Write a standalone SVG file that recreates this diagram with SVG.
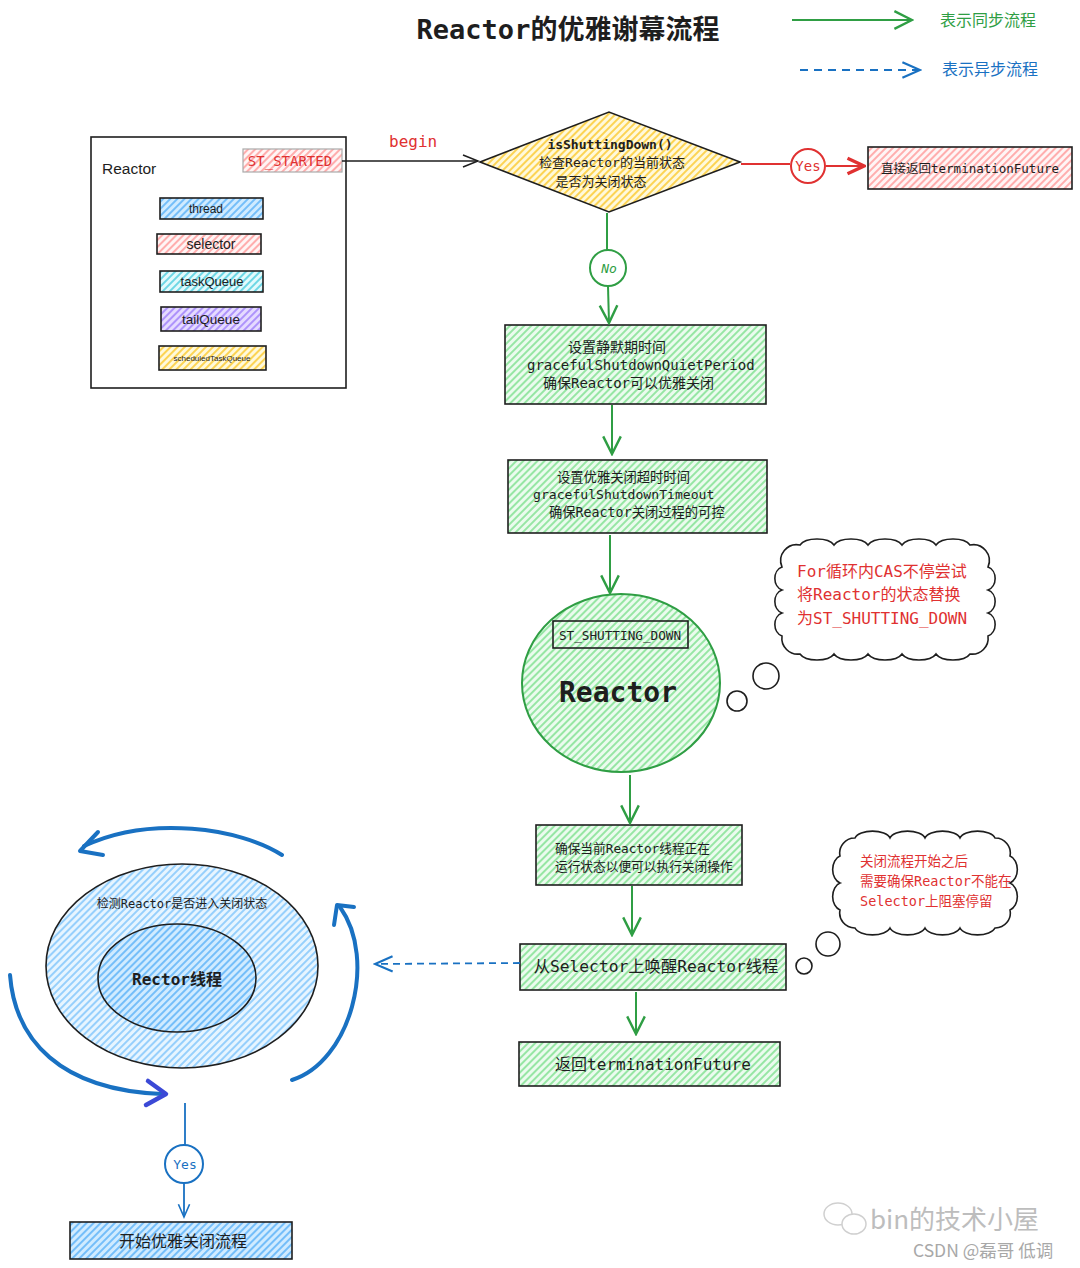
<svg xmlns="http://www.w3.org/2000/svg" width="1080" height="1268" viewBox="0 0 1080 1268">
<style>
.mono{font-family:"DejaVu Sans Mono","Noto Sans CJK SC",monospace}
.sans{font-family:"Liberation Sans","Noto Sans CJK SC",sans-serif}
.cjk{font-family:"Noto Sans CJK SC",sans-serif}
.bx{stroke:#1e1e1e;stroke-width:1.6}
.gl{stroke:#2f9e44;stroke-width:2;fill:none}
.rl{stroke:#e03131;stroke-width:2;fill:none}
.bl{stroke:#1971c2;fill:none}
.t{fill:#1e1e1e}
</style>
<defs>
<pattern id="hg" patternUnits="userSpaceOnUse" width="5" height="5" patternTransform="rotate(45)"><rect width="5" height="5" fill="#ebfbee"/><line x1="1" y1="0" x2="1" y2="5" stroke="#69db7c" stroke-width="1.3"/></pattern>
<pattern id="hb" patternUnits="userSpaceOnUse" width="5" height="5" patternTransform="rotate(45)"><rect width="5" height="5" fill="#e7f5ff"/><line x1="1" y1="0" x2="1" y2="5" stroke="#74c0fc" stroke-width="1.4"/></pattern>
<pattern id="hb2" patternUnits="userSpaceOnUse" width="5" height="5" patternTransform="rotate(45)"><rect width="5" height="5" fill="#d0ebff"/><line x1="1" y1="0" x2="1" y2="5" stroke="#4dabf7" stroke-width="1.4"/></pattern>
<pattern id="hr" patternUnits="userSpaceOnUse" width="5" height="5" patternTransform="rotate(45)"><rect width="5" height="5" fill="#fff5f5"/><line x1="1" y1="0" x2="1" y2="5" stroke="#ff8787" stroke-width="1.3"/></pattern>
<pattern id="ht" patternUnits="userSpaceOnUse" width="5" height="5" patternTransform="rotate(45)"><rect width="5" height="5" fill="#e3fafc"/><line x1="1" y1="0" x2="1" y2="5" stroke="#3bc9db" stroke-width="1.4"/></pattern>
<pattern id="hp" patternUnits="userSpaceOnUse" width="5" height="5" patternTransform="rotate(45)"><rect width="5" height="5" fill="#e5dbff"/><line x1="1" y1="0" x2="1" y2="5" stroke="#9775fa" stroke-width="1.4"/></pattern>
<pattern id="hy" patternUnits="userSpaceOnUse" width="5" height="5" patternTransform="rotate(45)"><rect width="5" height="5" fill="#fff9db"/><line x1="1" y1="0" x2="1" y2="5" stroke="#fcc419" stroke-width="1.4"/></pattern>
<marker id="aG" viewBox="0 0 20 20" refX="18" refY="10" markerWidth="22" markerHeight="22" markerUnits="userSpaceOnUse" orient="auto"><path d="M2,2 L18,10 L2,18" fill="none" stroke="#2f9e44" stroke-width="2.2"/></marker>
<marker id="aR" viewBox="0 0 20 20" refX="18" refY="10" markerWidth="22" markerHeight="22" markerUnits="userSpaceOnUse" orient="auto"><path d="M3,3 L18,10 L3,17" fill="none" stroke="#e03131" stroke-width="3"/></marker>
<marker id="aK" viewBox="0 0 20 20" refX="18" refY="10" markerWidth="20" markerHeight="20" markerUnits="userSpaceOnUse" orient="auto"><path d="M3,4 L18,10 L3,16" fill="none" stroke="#1e1e1e" stroke-width="1.6"/></marker>
<marker id="aB" viewBox="0 0 20 20" refX="18" refY="10" markerWidth="22" markerHeight="22" markerUnits="userSpaceOnUse" orient="auto"><path d="M2,3 L18,10 L2,17" fill="none" stroke="#1971c2" stroke-width="2"/></marker>
<marker id="aBs" viewBox="0 0 20 20" refX="18" refY="10" markerWidth="16" markerHeight="16" markerUnits="userSpaceOnUse" orient="auto"><path d="M2,3 L18,10 L2,17" fill="none" stroke="#1971c2" stroke-width="2"/></marker>
</defs>
<rect width="1080" height="1268" fill="#ffffff"/>

<g id="title"><text x="568" y="39" text-anchor="middle" class="mono t" font-size="27" font-weight="bold">Reactor的优雅谢幕流程</text></g>

<g id="legend">
<line x1="792" y1="20" x2="912" y2="20" class="gl" marker-end="url(#aG)"/>
<text x="940" y="26" class="cjk" font-size="16" fill="#2f9e44">表示同步流程</text>
<line x1="800" y1="70" x2="920" y2="70" class="bl" stroke-width="2" stroke-dasharray="8 6" marker-end="url(#aB)"/>
<text x="942" y="75" class="cjk" font-size="16" fill="#1971c2">表示异步流程</text>
</g>

<g id="reactor-box">
<rect x="91" y="137" width="255" height="251" fill="#ffffff" class="bx"/>
<text x="102" y="174" class="sans t" font-size="15.5">Reactor</text>
<g id="st-started"><rect x="243" y="149" width="99" height="23" fill="url(#hr)" stroke="#aaa" stroke-width="1.2"/><text x="290" y="166" text-anchor="middle" class="mono" font-size="14" fill="#e03131">ST_STARTED</text></g>
<g id="thread"><rect x="160" y="198" width="103" height="21" fill="url(#hb2)" class="bx"/><text x="206" y="213" text-anchor="middle" class="sans t" font-size="12">thread</text></g>
<g id="selector"><rect x="157" y="234" width="104" height="20" fill="url(#hr)" class="bx"/><text x="211" y="249" text-anchor="middle" class="sans t" font-size="14">selector</text></g>
<g id="taskQueue"><rect x="160" y="271" width="103" height="21" fill="url(#ht)" class="bx"/><text x="212" y="286" text-anchor="middle" class="sans t" font-size="13">taskQueue</text></g>
<g id="tailQueue"><rect x="161" y="307" width="100" height="24" fill="url(#hp)" class="bx"/><text x="211" y="324" text-anchor="middle" class="sans t" font-size="13.5">tailQueue</text></g>
<g id="scheduledTaskQueue"><rect x="159" y="346" width="107" height="24" fill="url(#hy)" class="bx"/><text x="212" y="361" text-anchor="middle" class="sans t" font-size="8">scheduledTaskQueue</text></g>
</g>

<g id="decision">
<polygon points="480,162 609,112 740,162 609,212" fill="url(#hy)" class="bx"/>
<text x="610" y="149" text-anchor="middle" class="mono t" font-size="13" font-weight="bold">isShuttingDown()</text>
<text x="612" y="167" text-anchor="middle" class="mono t" font-size="13">检查Reactor的当前状态</text>
<text x="601" y="186" text-anchor="middle" class="mono t" font-size="13">是否为关闭状态</text>
</g>

<g id="return-direct"><rect x="868" y="147" width="204" height="42" fill="url(#hr)" class="bx"/><text x="970" y="173" text-anchor="middle" class="mono t" font-size="12.5">直接返回terminationFuture</text></g>

<g id="step1"><rect x="505" y="325" width="261" height="79" fill="url(#hg)" class="bx"/>
<text x="568" y="352" class="mono t" font-size="14">设置静默期时间</text>
<text x="527" y="370" class="mono t" font-size="14">gracefulShutdownQuietPeriod</text>
<text x="543" y="388" class="mono t" font-size="14">确保Reactor可以优雅关闭</text></g>

<g id="step2"><rect x="508" y="460" width="259" height="73" fill="url(#hg)" class="bx"/>
<text x="557" y="482" class="mono t" font-size="13.3">设置优雅关闭超时时间</text>
<text x="533" y="499" class="mono t" font-size="13.1">gracefulShutdownTimeout</text>
<text x="549" y="517" class="mono t" font-size="13.3">确保Reactor关闭过程的可控</text></g>

<g id="reactor-circle">
<ellipse cx="621" cy="683" rx="99" ry="89" fill="url(#hg)" stroke="#2f9e44" stroke-width="2"/>
<rect x="553" y="621" width="135" height="27" fill="url(#hg)" class="bx"/>
<text x="620" y="640" text-anchor="middle" class="mono t" font-size="12.7">ST_SHUTTING_DOWN</text>
<text x="618" y="702" text-anchor="middle" class="mono t" font-size="28" font-weight="bold">Reactor</text>
</g>

<g id="cloud1">
<path d="M800 545 a18 9 0 0 1 34 0 a18 9 0 0 1 34 0 a18 9 0 0 1 34 0 a18 9 0 0 1 34 0 a18 9 0 0 1 34 0 a16 16 0 0 1 18 22 a10 12 0 0 1 0 23 a10 12 0 0 1 0 23 a10 12 0 0 1 0 23 a16 16 0 0 1 -18 18 a18 9 0 0 1 -34 0 a18 9 0 0 1 -34 0 a18 9 0 0 1 -34 0 a18 9 0 0 1 -34 0 a18 9 0 0 1 -34 0 a16 16 0 0 1 -18 -18 a10 12 0 0 1 0 -23 a10 12 0 0 1 0 -23 a10 12 0 0 1 0 -23 a16 16 0 0 1 18 -22 Z" fill="#ffffff" class="bx"/>
<text x="797" y="577" class="mono" font-size="16" fill="#e03131">For循环内CAS不停尝试</text>
<text x="797" y="600" class="mono" font-size="16" fill="#e03131">将Reactor的状态替换</text>
<text x="797" y="624" class="mono" font-size="16" fill="#e03131">为ST_SHUTTING_DOWN</text>
<circle cx="766" cy="676" r="13" fill="#ffffff" class="bx"/>
<circle cx="737" cy="701" r="10" fill="#ffffff" class="bx"/>
</g>

<g id="step3"><rect x="536" y="825" width="206" height="60" fill="url(#hg)" class="bx"/>
<text x="555" y="853" class="mono t" font-size="12.7">确保当前Reactor线程正在</text>
<text x="555" y="871" class="mono t" font-size="12.7">运行状态以便可以执行关闭操作</text></g>

<g id="cloud2">
<path d="M855 838 a18 9 0 0 1 35 0 a18 9 0 0 1 35 0 a18 9 0 0 1 35 0 a18 9 0 0 1 35 0 a15 15 0 0 1 15 18 a10 14 0 0 1 0 27 a10 14 0 0 1 0 27 a15 15 0 0 1 -15 18 a18 9 0 0 1 -35 0 a18 9 0 0 1 -35 0 a18 9 0 0 1 -35 0 a18 9 0 0 1 -35 0 a15 15 0 0 1 -15 -18 a10 14 0 0 1 0 -27 a10 14 0 0 1 0 -27 a15 15 0 0 1 15 -18 Z" fill="#ffffff" class="bx"/>
<text x="860" y="866" class="mono" font-size="13.5" fill="#e03131">关闭流程开始之后</text>
<text x="860" y="886" class="mono" font-size="13.5" fill="#e03131">需要确保Reactor不能在</text>
<text x="860" y="906" class="mono" font-size="13.5" fill="#e03131">Selector上阻塞停留</text>
<circle cx="828" cy="944" r="12" fill="#ffffff" class="bx"/>
<circle cx="804" cy="966" r="8" fill="#ffffff" class="bx"/>
</g>

<g id="step4"><rect x="520" y="944" width="266" height="46" fill="url(#hg)" class="bx"/>
<text x="656" y="972" text-anchor="middle" class="mono t" font-size="16.3">从Selector上唤醒Reactor线程</text></g>

<g id="step5"><rect x="519" y="1042" width="261" height="44" fill="url(#hg)" class="bx"/>
<text x="653" y="1070" text-anchor="middle" class="mono t" font-size="16">返回terminationFuture</text></g>

<g id="reactor-thread">
<ellipse cx="182" cy="966" rx="136" ry="102" fill="url(#hb)" class="bx"/>
<ellipse cx="177" cy="978" rx="79" ry="54" fill="url(#hb2)" class="bx"/>
<text x="182" y="908" text-anchor="middle" class="mono t" font-size="12">检测Reactor是否进入关闭状态</text>
<text x="177" y="985" text-anchor="middle" class="mono t" font-size="16" font-weight="bold">Rector线程</text>
</g>

<g id="loop-arrows" stroke-linecap="round" stroke-linejoin="round">
<path d="M282 855 C240 828,150 815,84 846" class="bl" stroke-width="4"/>
<polyline points="98,832 80,851 103,855" class="bl" stroke-width="4"/>
<path d="M292 1080 C350 1062,378 960,340 907" class="bl" stroke-width="4"/>
<polyline points="334,925 337,905 354,907" class="bl" stroke-width="4"/>
<path d="M10 975 C15 1040,60 1090,162 1094" class="bl" stroke-width="4"/>
<polyline points="148,1081 166,1094 146,1105" fill="none" stroke="#3b49d6" stroke-width="4.5"/>
</g>

<g id="start-shutdown"><rect x="70" y="1222" width="222" height="37" fill="url(#hb2)" class="bx"/>
<text x="183" y="1247" text-anchor="middle" class="cjk t" font-size="16">开始优雅关闭流程</text></g>

<g id="connectors">
<line x1="342" y1="161" x2="478" y2="161" stroke="#1e1e1e" stroke-width="1.5" marker-end="url(#aK)"/>
<text x="389" y="147" class="mono" font-size="16" fill="#e03131">begin</text>
<line x1="741" y1="164" x2="790" y2="164" class="rl"/>
<circle cx="808" cy="166" r="17" class="rl"/>
<text x="808" y="171" text-anchor="middle" class="mono" font-size="14" fill="#e03131">Yes</text>
<line x1="826" y1="166" x2="864" y2="166" class="rl" stroke-width="3" marker-end="url(#aR)"/>
<line x1="607" y1="213" x2="607" y2="250" class="gl"/>
<circle cx="608" cy="268" r="18" class="gl"/>
<text x="609" y="273" text-anchor="middle" class="mono" font-size="13" font-style="italic" fill="#2f9e44">No</text>
<line x1="608" y1="286" x2="609" y2="323" class="gl" marker-end="url(#aG)"/>
<line x1="612" y1="405" x2="612" y2="454" class="gl" marker-end="url(#aG)"/>
<line x1="610" y1="535" x2="610" y2="593" class="gl" marker-end="url(#aG)"/>
<line x1="630" y1="775" x2="630" y2="823" class="gl" marker-end="url(#aG)"/>
<line x1="632" y1="886" x2="632" y2="935" class="gl" marker-end="url(#aG)"/>
<line x1="636" y1="992" x2="636" y2="1034" class="gl" marker-end="url(#aG)"/>
<line x1="520" y1="963" x2="375" y2="964" class="bl" stroke-width="1.8" stroke-dasharray="7 5" marker-end="url(#aB)"/>
<line x1="185" y1="1103" x2="185" y2="1145" class="bl" stroke-width="1.8"/>
<circle cx="184" cy="1164" r="19" class="bl" stroke-width="2"/>
<text x="185" y="1169" text-anchor="middle" class="mono" font-size="13" fill="#1971c2">Yes</text>
<line x1="184" y1="1184" x2="184" y2="1217" class="bl" stroke-width="1.8" marker-end="url(#aBs)"/>
</g>

<g id="watermark">
<ellipse cx="838" cy="1214" rx="14" ry="11" fill="none" stroke="#d0d0d0" stroke-width="1.5"/>
<ellipse cx="854" cy="1224" rx="12" ry="10" fill="#ffffff" stroke="#d0d0d0" stroke-width="1.5"/>
<text x="870" y="1229" class="cjk" font-size="26" fill="#bdbdbd">bin的技术小屋</text>
<text x="913" y="1257" class="cjk" font-size="17.5" fill="#a8a8a8">CSDN @磊哥 低调</text>
</g>
</svg>
